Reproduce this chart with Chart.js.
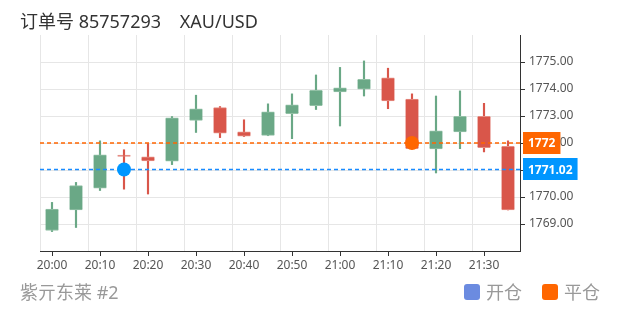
<!DOCTYPE html>
<html>
<head>
<meta charset="utf-8">
<script src="https://cdn.jsdelivr.net/npm/chart.js@4/dist/chart.umd.min.js"></script>
<style>
  body{ margin:0; background:#fff; }
  #wrap{ position:relative; width:620px; height:310px; font-family:"Noto Sans","Noto Sans CJK SC",sans-serif; }
  #wrap canvas{ position:absolute; left:0; top:0; }
  .title{ position:absolute; left:20px; top:8px; font-size:18px; line-height:26px; color:#333; white-space:pre; }
  .sub{ position:absolute; left:20px; top:279px; font-size:18px; line-height:26px; color:#999; white-space:pre; }
  .legend{ position:absolute; right:20px; top:279px; font-size:18px; line-height:26px; color:#999; display:flex; align-items:center; }
  .legend span.box{ display:inline-block; width:16px; height:16px; border-radius:3px; margin-right:6px; }
  .legend span.item{ display:flex; align-items:center; margin-left:20px; }
</style>
</head>
<body>
<div id="wrap">
  <canvas id="kChart" width="620" height="310"></canvas>
  <div class="title">订单号 85757293    XAU/USD</div>
  <div class="sub">紫亓东莱 #2</div>
  <div class="legend">
    <span class="item"><span class="box" style="background:#6b8be0"></span>开仓</span>
    <span class="item"><span class="box" style="background:#ff6600"></span>平仓</span>
  </div>
</div>
<script>
// 5 minute candles
const times  = ["20:00","20:05","20:10","20:15","20:20","20:25","20:30","20:35","20:40","20:45",
                "20:50","20:55","21:00","21:05","21:10","21:15","21:20","21:25","21:30","21:35"];
const opens  = [1768.76,1769.52,1770.33,1771.55,1771.49,1771.33,1772.84,1773.31,1772.41,1772.28,
                1773.09,1773.38,1773.89,1773.99,1774.41,1773.63,1771.78,1772.41,1772.99,1771.88];
const closes = [1769.55,1770.42,1771.56,1771.50,1771.34,1772.93,1773.27,1772.36,1772.25,1773.15,
                1773.41,1773.95,1774.04,1774.36,1773.56,1771.79,1772.45,1772.99,1771.83,1769.52];
const highs  = [1769.80,1770.54,1772.08,1771.75,1771.98,1772.98,1773.77,1773.35,1772.86,1773.45,
                1773.82,1774.52,1774.80,1775.04,1774.77,1773.82,1773.74,1773.93,1773.47,1772.08];
const lows   = [1768.72,1768.87,1770.24,1770.29,1770.11,1771.20,1772.39,1772.20,1772.24,1772.27,
                1772.16,1773.24,1772.63,1773.74,1773.27,1771.78,1770.89,1771.79,1771.67,1769.52];

const openTrades  = [{x:"20:15", y:1771.02}];
const closeTrades = [{x:"21:15", y:1772}];

const priceLevels = [1772, 1771.02];
const priceTags   = ["1772", "1771.02"];

const yMin = 1768, yMax = 1776;

const UP = "#6aa886", DOWN = "#d9564a";
const levelColors = ["#ff6600", "#1a8cff"];
const tagColors   = ["#ff6600", "#0096ff"];

const candleColor = opens.map((o, i) => closes[i] >= o ? UP : DOWN);
const candleEdge  = opens.map((o, i) => closes[i] >= o ? "#93c1a6" : "#e58e84");

const priceLinePlugin = {
  id: "priceLines",
  afterDatasetDraw(chart, args){
    if(args.index !== 2) return;
    const ctx = chart.ctx, area = chart.chartArea, y = chart.scales.y;
    ctx.save();
    ctx.lineWidth = 1.5;
    ctx.setLineDash([4, 3]);
    priceLevels.forEach((v, i) => {
      const py = y.getPixelForValue(v);
      ctx.strokeStyle = levelColors[i];
      ctx.beginPath(); ctx.moveTo(area.left, py); ctx.lineTo(area.right, py); ctx.stroke();
    });
    ctx.restore();
  },
  afterDraw(chart){
    const ctx = chart.ctx, area = chart.chartArea, y = chart.scales.y;
    ctx.save();
    ctx.font = "bold 12px 'Noto Sans'";
    ctx.textBaseline = "middle";
    priceLevels.forEach((v, i) => {
      const py = y.getPixelForValue(v);
      const w = ctx.measureText(priceTags[i]).width + 10;
      ctx.fillStyle = tagColors[i];
      ctx.fillRect(area.right + 3, Math.round(py - 11), w, 22);
      ctx.fillStyle = "#fff";
      ctx.fillText(priceTags[i], area.right + 8, py + 1);
    });
    ctx.restore();
  }
};

new Chart(document.getElementById("kChart"), {
  data: {
    labels: times,
    datasets: [
      { type:"line", label:"开仓", data:openTrades, showLine:false, order:0,
        pointRadius:7, pointHoverRadius:7, pointBackgroundColor:"#0096ff", pointBorderWidth:0 },
      { type:"line", label:"平仓", data:closeTrades, showLine:false, order:0,
        pointRadius:7, pointHoverRadius:7, pointBackgroundColor:"#ff6600", pointBorderWidth:0 },
      { type:"bar", label:"body", data:opens.map((o, i) => [o, closes[i]]), order:1,
        grouped:false, barThickness:13, backgroundColor:candleColor,
        borderColor:candleEdge, borderWidth:{top:1, bottom:1, left:0, right:0}, borderSkipped:false },
      { type:"bar", label:"wick", data:lows.map((l, i) => [l, highs[i]]), order:2,
        grouped:false, barThickness:1.5, backgroundColor:candleColor, borderWidth:0 }
    ]
  },
  options: {
    responsive:false,
    animation:false,
    devicePixelRatio:1,
    layout:{ padding:{ left:40, top:35, right:0, bottom:0 } },
    plugins:{ legend:{ display:false }, tooltip:{ enabled:false } },
    scales: {
      x: {
        type:"category", offset:true, position:"bottom",
        grid:{ offset:false, drawOnChartArea:false, tickLength:5,
               color:(c) => c.index % 2 === 0 ? "#333" : "rgba(0,0,0,0)" },
        border:{ color:"#333" },
        ticks:{ autoSkip:false, maxRotation:0, padding:2, color:"#555",
                font:{ family:"Noto Sans", size:12 },
                callback:(v, i) => i % 2 === 0 ? times[i] : "" },
        afterFit:(s) => { s.height = 59; }
      },
      xg: {
        type:"category", offset:true, position:"bottom",
        grid:{ offset:true, drawTicks:false, color:(c) => c.index % 2 === 0 ? "#e6e6e6" : "rgba(0,0,0,0)" },
        border:{ display:false },
        ticks:{ display:false },
        afterFit:(s) => { s.height = 0; }
      },
      y: {
        position:"right", min:yMin, max:yMax,
        grid:{ tickLength:5,
               color:(c) => (c.tick.value > yMin && c.tick.value < yMax) ? "#e6e6e6" : "rgba(0,0,0,0)",
               tickColor:(c) => (c.tick.value > yMin && c.tick.value < yMax) ? "#333" : "rgba(0,0,0,0)" },
        border:{ color:"#333" },
        ticks:{ stepSize:1, padding:4, color:"#555", font:{ family:"Noto Sans", size:12 },
                callback:(v) => (v > yMin && v < yMax) ? v.toFixed(2) : "" },
        afterFit:(s) => { s.width = 100; }
      }
    }
  },
  plugins:[priceLinePlugin]
});
</script>
</body>
</html>
